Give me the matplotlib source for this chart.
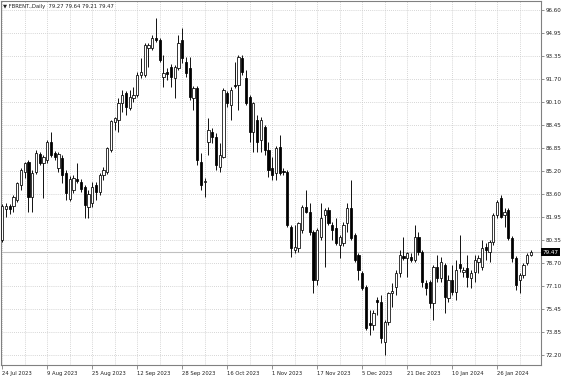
import numpy as np
import pandas as pd
import matplotlib
matplotlib.use("Agg")
import matplotlib.pyplot as plt
from matplotlib.transforms import blended_transform_factory

# daily FBRENT candles
symbol = "FBRENT.,Daily"
opens = [80.33, 82.53, 82.74, 82.74, 83.16, 84.22, 85.14, 85.85, 83.37, 85.14,
         86.42, 85.78, 85.99, 87.26, 86.49, 85.43, 86.13, 85.07, 83.23, 83.87,
         84.65, 84.44, 84.08, 82.67, 82.95, 84.22, 83.73, 84.93, 85.14, 86.70,
         88.68, 88.82, 90.02, 90.73, 89.67, 90.38, 90.59, 92.00, 92.00, 93.91,
         93.91, 94.62, 94.48, 91.86, 92.21, 92.57, 91.79, 92.50, 94.48, 92.92,
         92.50, 90.38, 91.08, 85.85, 84.44, 87.26, 87.97, 87.62, 85.50, 86.20,
         90.73, 89.88, 91.30, 91.30, 93.21, 91.79, 90.45, 87.97, 88.82, 87.41,
         88.33, 86.70, 85.43, 85.07, 86.91, 85.21, 85.14, 81.25, 79.62, 79.77,
         81.04, 82.67, 82.31, 80.90, 77.51, 80.55, 82.10, 82.46, 81.40, 81.18,
         79.98, 80.12, 81.54, 82.60, 80.69, 79.27, 78.00, 77.01, 74.46, 74.32,
         76.09, 75.95, 73.12, 74.53, 76.59, 77.01, 78.00, 79.20, 79.06, 79.13,
         78.92, 80.55, 79.49, 77.29, 77.36, 75.88, 78.43, 77.65, 78.57, 76.23,
         77.51, 76.66, 78.64, 78.07, 78.35, 77.65, 78.07, 78.78, 78.43, 79.84,
         79.49, 80.19, 82.10, 83.30, 82.10, 82.46, 80.48, 79.06, 77.51, 77.86,
         78.71, 79.27]
highs = [82.88, 82.95, 82.88, 83.52, 84.44, 85.43, 85.85, 85.99, 85.28, 86.70,
         86.56, 86.35, 87.41, 87.97, 86.63, 86.56, 86.35, 85.28, 84.86, 84.93,
         85.78, 84.65, 84.22, 83.87, 84.44, 84.44, 85.07, 85.50, 86.91, 88.82,
         89.03, 90.38, 90.94, 90.87, 90.94, 91.15, 92.21, 93.21, 94.27, 94.27,
         94.83, 96.03, 94.62, 93.42, 92.50, 92.78, 92.71, 94.83, 95.33, 93.28,
         93.28, 91.23, 91.23, 86.49, 84.72, 88.96, 88.25, 87.90, 87.19, 91.08,
         90.87, 91.15, 92.92, 93.42, 93.42, 92.36, 90.59, 90.09, 89.17, 89.03,
         88.47, 87.26, 86.20, 86.98, 87.76, 85.43, 85.28, 81.40, 81.40, 81.61,
         82.81, 83.87, 82.95, 81.04, 81.18, 82.95, 82.60, 82.67, 81.61, 81.89,
         80.69, 81.61, 82.95, 84.58, 80.83, 79.41, 78.14, 77.15, 75.38, 75.38,
         76.30, 76.44, 74.68, 76.66, 77.29, 78.21, 79.62, 80.55, 79.49, 79.41,
         81.40, 80.90, 79.62, 77.51, 77.51, 78.57, 79.27, 79.13, 78.71, 77.86,
         78.57, 78.92, 80.69, 78.43, 79.27, 78.21, 79.27, 79.27, 80.33, 80.12,
         80.33, 82.24, 83.16, 83.52, 82.60, 82.60, 80.62, 79.20, 78.00, 78.71,
         79.41, 79.64]
lows = [80.19, 81.96, 82.17, 82.31, 83.02, 83.87, 84.72, 82.31, 82.31, 85.00,
        85.64, 83.30, 85.78, 86.20, 85.99, 85.14, 84.37, 83.16, 83.09, 83.66,
        84.37, 83.73, 81.89, 81.89, 82.67, 83.16, 83.52, 84.58, 85.00, 86.56,
        88.11, 87.97, 89.39, 89.17, 89.53, 90.09, 90.45, 91.79, 91.86, 92.57,
        93.77, 94.34, 92.92, 91.15, 91.65, 91.15, 90.38, 92.36, 92.85, 91.86,
        90.23, 89.53, 85.64, 83.87, 83.37, 86.35, 87.19, 85.28, 85.14, 86.13,
        89.74, 88.82, 91.08, 89.53, 92.00, 89.88, 87.26, 86.56, 86.56, 86.56,
        86.35, 84.79, 84.58, 84.58, 84.93, 84.93, 81.25, 79.13, 79.41, 79.49,
        80.83, 82.24, 80.69, 76.59, 77.15, 80.33, 78.43, 81.40, 80.33, 79.98,
        79.06, 79.91, 80.90, 80.33, 78.78, 77.51, 76.80, 73.97, 73.62, 73.97,
        75.03, 73.05, 72.20, 74.32, 75.60, 76.44, 77.72, 78.92, 77.72, 78.78,
        78.78, 79.27, 77.01, 76.44, 75.52, 74.68, 77.36, 77.36, 75.17, 75.95,
        76.44, 76.09, 78.07, 77.72, 77.01, 76.94, 77.36, 78.00, 78.21, 78.92,
        78.78, 79.98, 81.89, 81.89, 81.25, 80.33, 78.78, 76.80, 76.59, 77.65,
        78.57, 79.21]
closes = [82.74, 82.74, 82.53, 83.37, 84.37, 85.28, 85.78, 83.37, 85.07, 86.49,
          85.78, 86.20, 87.26, 86.35, 86.20, 86.42, 84.93, 83.66, 84.65, 84.72,
          84.51, 83.94, 82.81, 83.59, 84.08, 83.73, 84.93, 85.28, 86.84, 88.75,
          88.96, 90.02, 90.59, 89.74, 90.45, 90.59, 92.00, 92.21, 94.12, 94.12,
          94.62, 94.48, 93.06, 92.14, 92.07, 91.86, 92.57, 94.27, 93.21, 92.14,
          90.45, 91.08, 85.99, 84.22, 84.51, 88.11, 87.62, 85.64, 86.35, 90.94,
          90.02, 90.94, 91.23, 93.28, 92.21, 90.02, 87.97, 90.02, 87.26, 88.82,
          86.70, 85.28, 84.93, 86.84, 85.07, 85.14, 81.40, 79.77, 79.84, 81.54,
          82.67, 82.31, 80.90, 77.51, 81.04, 81.89, 82.46, 81.54, 81.04, 80.12,
          80.55, 81.40, 82.60, 80.48, 78.92, 78.21, 76.94, 74.11, 74.32, 75.17,
          75.95, 73.41, 74.53, 76.59, 76.73, 78.00, 79.27, 79.06, 79.41, 78.92,
          80.55, 79.49, 77.36, 76.94, 75.88, 78.43, 77.65, 78.78, 76.30, 77.51,
          76.66, 78.21, 78.35, 78.21, 77.72, 78.00, 78.92, 79.06, 79.77, 79.62,
          80.19, 82.10, 83.02, 81.96, 82.31, 80.48, 79.06, 77.15, 77.86, 78.57,
          79.27, 79.47]

price_ticks = [96.60, 94.95, 93.35, 91.70, 90.10, 88.45, 86.85, 85.20,
               83.60, 81.95, 80.35, 78.70, 77.10, 75.45, 73.85, 72.20]
label_dates = ["2023-07-24", "2023-08-09", "2023-08-25", "2023-09-12",
               "2023-09-28", "2023-10-16", "2023-11-01", "2023-11-17",
               "2023-12-05", "2023-12-21", "2024-01-10", "2024-01-26"]
holidays = ["2023-12-25", "2024-01-01"]

days = pd.bdate_range("2023-07-24", "2024-03-01")
days = days[~days.isin(pd.to_datetime(holidays))][:len(closes)]

o = np.array(opens)
h = np.array(highs)
l = np.array(lows)
c = np.array(closes)
x = np.arange(len(c))
up = c >= o

fig = plt.figure(figsize=(5.64, 3.76), dpi=100)
ax = fig.add_axes([1 / 564, 11 / 376, 540 / 564, 364 / 376])

ax.vlines(x, l, h, color="black", linewidth=0.65, zorder=3)
body = np.maximum(np.abs(c - o), 0.03)
ax.bar(x[up], body[up], bottom=np.minimum(o, c)[up], width=0.6,
       facecolor="white", edgecolor="black", linewidth=0.55, zorder=4)
ax.bar(x[~up], body[~up], bottom=np.minimum(o, c)[~up], width=0.6,
       facecolor="black", edgecolor="black", linewidth=0.55, zorder=4)

# current price line
last = c[-1]
ax.axhline(last, color="#c0c0c0", linewidth=0.8, zorder=1)

ax.set_xlim(-0.3, len(c) + 1.7)
ax.set_ylim(71.49, 97.24)

# axes cosmetics, MT4 style
for s in ax.spines.values():
    s.set_color("#808080")
    s.set_linewidth(0.8)

ax.yaxis.tick_right()
ax.set_yticks(price_ticks)
ax.set_yticklabels([f"{v:.2f}" for v in price_ticks])
ax.tick_params(axis="y", length=2, width=0.6, labelsize=4.1, pad=1.5,
               color="#808080", labelcolor="#202020")

pos = [days.get_loc(pd.Timestamp(d)) for d in label_dates]
ax.set_xticks(pos)
ax.set_xticklabels([f"{days[p].day} {days[p].strftime('%b %Y')}" for p in pos],
                   ha="left")
ax.set_xticks(np.arange(6, len(c) + 2, 12), minor=True)
ax.tick_params(axis="x", which="major", length=3, width=0.6, labelsize=3.8,
               pad=1, color="#808080", labelcolor="#202020")
ax.tick_params(axis="x", which="minor", length=0)

ax.grid(True, which="both", color="#c8c8c8", linestyle=(0, (1, 1.5)),
        linewidth=0.6, zorder=0)
ax.set_axisbelow(True)

# price marker on the right scale
tr = blended_transform_factory(ax.transAxes, ax.transData)
ax.text(1.003, last, f"{last:.2f}", transform=tr, ha="left", va="center",
        fontsize=4.1, color="white", clip_on=False,
        bbox=dict(facecolor="black", edgecolor="none", pad=0.9))

ax.text(0.004, 0.993,
        f"\u25bc {symbol}  {o[-1]:.2f} {h[-1]:.2f} {l[-1]:.2f} {c[-1]:.2f}",
        transform=ax.transAxes, ha="left", va="top", fontsize=3.8,
        color="#202020")

fig.savefig("out.png", dpi=100, facecolor="white")
